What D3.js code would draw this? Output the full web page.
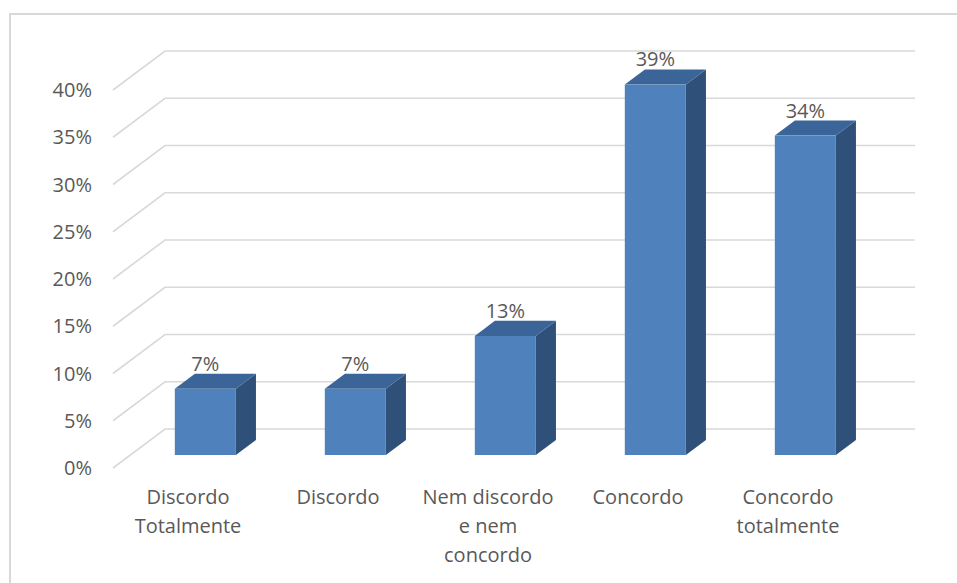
<!DOCTYPE html>
<html>
<head>
<meta charset="utf-8">
<script src="https://cdn.jsdelivr.net/npm/d3@7"></script>
<style>
  html, body { margin: 0; padding: 0; background: #fff; }
  svg { display: block; }
  text { font-family: "Open Sans", "Noto Sans", sans-serif; fill: #595959; }
</style>
</head>
<body>
<svg id="chart" width="957" height="583"></svg>
<script>
// ---- data ----
const categories = ["Discordo\nTotalmente", "Discordo", "Nem discordo\ne nem\nconcordo", "Concordo", "Concordo\ntotalmente"];
const values = [0.07, 0.07, 0.126, 0.392, 0.338];
const yTicks = [0, 0.05, 0.10, 0.15, 0.20, 0.25, 0.30, 0.35, 0.40];

// ---- layout ----
const W = 957, H = 583;
const floorLeft = 113, floorRight = 863;
const depthX = 52, depthY = -39;          // wall depth offset (front -> back)
const barFront = 1 / 3, barBack = 0.72;   // bar depth fractions
const svg = d3.select("#chart");

// frame
svg.append("rect").attr("x", 10).attr("y", 14).attr("width", W + 20).attr("height", H + 20)
  .attr("fill", "none").attr("stroke", "#D9D9D9").attr("stroke-width", 2);

const x = d3.scaleBand().domain(categories).range([floorLeft, floorRight]).padding(0);
const y = d3.scaleLinear().domain([0, 0.40]).range([468, 90]);
const fmt = d3.format(".0%");

// gridlines (back wall + side diagonal)
svg.append("g").selectAll("path").data(yTicks).join("path")
  .attr("d", t => {
    const y0 = y(t);
    return `M${floorLeft},${y0}L${floorLeft + depthX},${y0 + depthY}L${floorRight + depthX},${y0 + depthY}`;
  })
  .attr("fill", "none").attr("stroke", "#D9D9D9").attr("stroke-width", 1.6);

// y axis labels
svg.append("g").selectAll("text").data(yTicks).join("text")
  .attr("x", 92).attr("y", t => y(t)).attr("dy", "0.35em")
  .attr("text-anchor", "end").attr("font-size", 20)
  .text(d3.format(".0%"));

// bars
const barW = x.bandwidth() * 0.407;
const fx = depthX * barFront, fy = depthY * barFront;
const ddx = depthX * (barBack - barFront), ddy = depthY * (barBack - barFront);
const bars = svg.append("g").selectAll("g").data(categories.map((c, i) => ({ c, v: values[i] }))).join("g");

bars.each(function (d) {
  const g = d3.select(this);
  const bx = x(d.c) + (x.bandwidth() - barW) / 2 + fx;
  const ty = y(d.v) + fy, by = y(0) + fy;
  // side
  g.append("path")
    .attr("d", `M${bx + barW},${ty}L${bx + barW + ddx},${ty + ddy}L${bx + barW + ddx},${by + ddy}L${bx + barW},${by}Z`)
    .attr("fill", "#2F5079");
  // top
  g.append("path")
    .attr("d", `M${bx},${ty}L${bx + barW},${ty}L${bx + barW + ddx},${ty + ddy}L${bx + ddx},${ty + ddy}Z`)
    .attr("fill", "#3B6598");
  // front
  g.append("rect").attr("x", bx).attr("y", ty).attr("width", barW).attr("height", by - ty)
    .attr("fill", "#4F81BD");
  // data label
  g.append("text")
    .attr("x", bx + barW / 2).attr("y", ty + ddy - 3)
    .attr("text-anchor", "middle").attr("font-size", 20)
    .text(fmt(d.v));
});

// category labels
svg.append("g").selectAll("text").data(categories).join("text")
  .attr("x", d => x(d) + x.bandwidth() / 2)
  .attr("y", 504)
  .attr("text-anchor", "middle").attr("font-size", 20)
  .each(function (d) {
    const lines = d.split("\n");
    d3.select(this).selectAll("tspan").data(lines).join("tspan")
      .attr("x", x(d) + x.bandwidth() / 2)
      .attr("dy", (l, i) => i === 0 ? 0 : 29)
      .text(l => l);
  });
</script>
</body>
</html>
